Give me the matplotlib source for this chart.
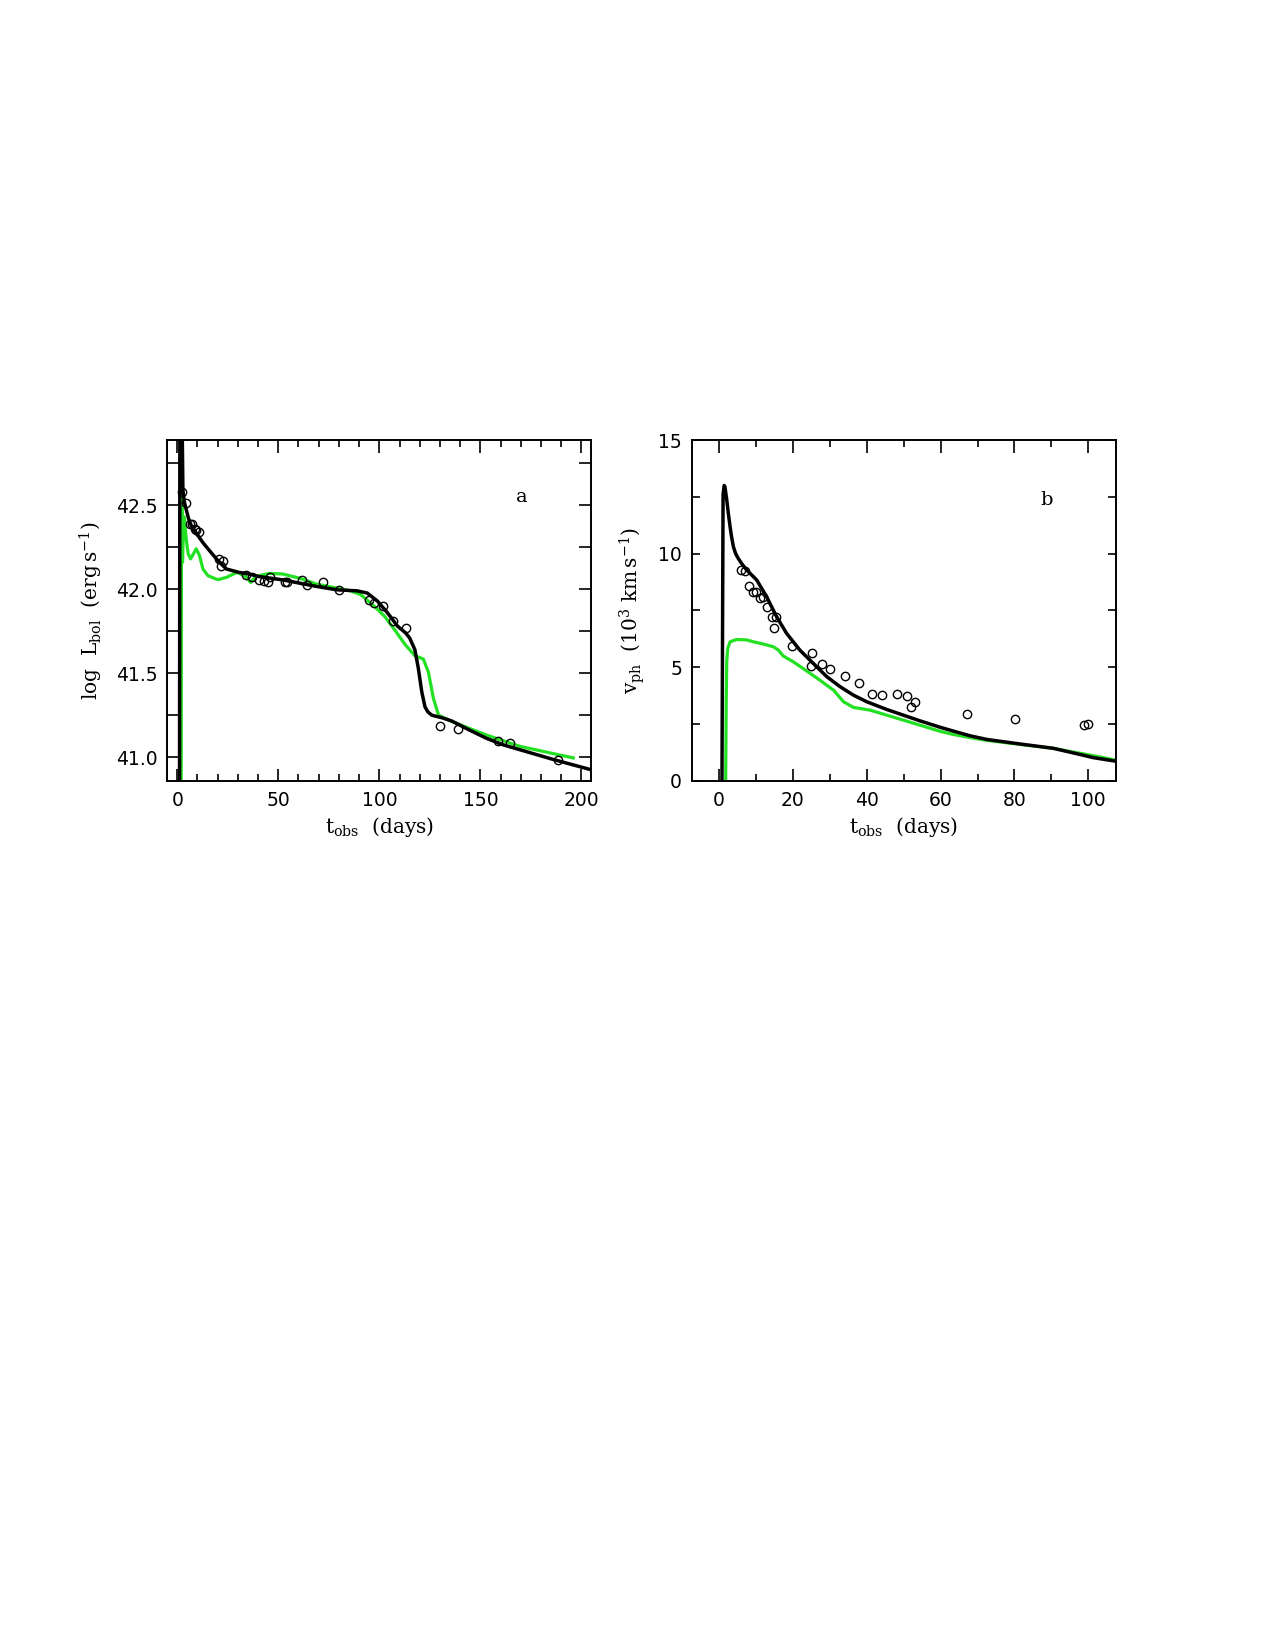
import matplotlib
matplotlib.use("Agg")
import matplotlib.pyplot as plt
from matplotlib.ticker import MultipleLocator, FormatStrFormatter

plt.rcParams['font.family'] = ['DejaVu Serif']
plt.rcParams['mathtext.fontset'] = 'dejavuserif'

# panel a: bolometric light curve
ta_black = [1.1, 1.3, 2.2, 2.8, 3.5, 4.5, 5.6, 6.9, 8.5, 10.2, 12.5, 15.2, 20.1, 24.3,
            30.5, 35.5, 40.5, 52.3, 69, 79, 89, 94, 99, 104, 109, 113, 115, 117.6,
            119.3, 121, 122.6, 124, 126, 131, 136, 144.4, 152.8, 161, 169.5, 186.3, 205]
La_black = [40.5, 43.2, 43.2, 42.59, 42.52, 42.47, 42.42, 42.38, 42.35, 42.32, 42.28,
            42.24, 42.17, 42.12, 42.10, 42.09, 42.075, 42.055, 42.016, 41.996, 41.99,
            41.977, 41.93, 41.86, 41.78, 41.74, 41.71, 41.64, 41.53, 41.39, 41.30,
            41.27, 41.25, 41.235, 41.215, 41.163, 41.114, 41.075, 41.045, 40.986, 40.925]

ta_green = [1.9, 2.1, 2.3, 2.6, 3.0, 3.5, 4.5, 5.4, 6.6, 8.0, 9.4, 11.0, 12.7, 15.2,
            20.1, 24.3, 29.6, 33.8, 36.3, 38.9, 45.6, 52.3, 60.6, 69, 79, 85.8, 90.8,
            97.5, 102.5, 107.5, 112.6, 117.6, 121.8, 124.3, 126.8, 129.3, 136, 152.8,
            169.5, 196]
La_green = [40.5, 42.5, 42.78, 42.16, 42.35, 42.43, 42.29, 42.21, 42.18, 42.21, 42.24,
            42.2, 42.12, 42.08, 42.056, 42.07, 42.10, 42.075, 42.04, 42.075, 42.094,
            42.09, 42.065, 42.03, 42.006, 41.99, 41.967, 41.898, 41.84, 41.76, 41.673,
            41.604, 41.584, 41.506, 41.349, 41.251, 41.212, 41.133, 41.065, 40.996]

ta_obs = [2.3, 4.5, 6.2, 7.3, 8.6, 9.5, 10.6, 20.9, 21.8, 22.4, 33.8, 37.2, 40.5, 43.0,
          44.7, 45.9, 53.1, 54.3, 61.5, 64.0, 71.9, 79.9, 95.0, 97.5, 101.7, 106.7,
          113.4, 130.2, 139.0, 158.6, 164.8, 188.3]
La_obs = [42.576, 42.51, 42.39, 42.39, 42.36, 42.35, 42.34, 42.18, 42.14, 42.17,
          42.084, 42.075, 42.055, 42.05, 42.045, 42.075, 42.045, 42.045, 42.055, 42.025,
          42.04, 41.996, 41.937, 41.918, 41.898, 41.81, 41.767, 41.188, 41.169, 41.098,
          41.084, 40.986]

# panel b: photospheric velocity
tb_black = [0.8, 1.1, 1.4, 1.6, 2.1, 2.5, 3.0, 3.4, 3.9, 4.5, 5.2, 6.1, 7.5, 10.2, 12.9,
            15.6, 18.3, 21.9, 25.5, 29.2, 32.8, 36.4, 40.0, 45.4, 49.9, 54.4, 59.8,
            63.4, 68.0, 72.5, 81.5, 90.5, 97.7, 101.3, 107.5]
vb_black = [0.0, 12.6, 13.0, 12.95, 12.36, 11.8, 11.18, 10.74, 10.3, 10.0, 9.79, 9.57,
            9.28, 8.84, 8.1, 7.22, 6.49, 5.75, 5.17, 4.58, 4.14, 3.77, 3.48, 3.14, 2.89,
            2.64, 2.36, 2.19, 1.98, 1.82, 1.62, 1.43, 1.16, 1.02, 0.86]

tb_green = [1.8, 1.95, 2.1, 2.4, 3.0, 4.8, 7.5, 9.3, 12, 14.7, 16.1, 17.4, 20.1, 23.7,
            27.3, 31.0, 33.7, 36.4, 40.9, 45.4, 49.9, 54.4, 59.8, 63.4, 68.0, 72.5,
            81.5, 90.5, 99.5, 107.5]
vb_green = [0.0, 3.5, 5.3, 5.85, 6.12, 6.22, 6.2, 6.12, 6.02, 5.9, 5.75, 5.49, 5.24,
            4.84, 4.43, 3.99, 3.48, 3.23, 3.11, 2.89, 2.67, 2.45, 2.18, 2.04, 1.9,
            1.78, 1.6, 1.43, 1.16, 0.91]

tb_obs = [5.87, 7.04, 8.12, 9.12, 10.0, 11.1, 12.0, 13.1, 14.26, 15.4, 14.9, 19.86,
          25.1, 24.8, 28.0, 30.05, 34.1, 37.99, 41.3, 44.1, 48.1, 51.0, 53.1, 52.1,
          67.1, 80.05, 98.8, 100.0]
vb_obs = [9.28, 9.25, 8.59, 8.32, 8.32, 8.03, 8.10, 7.63, 7.22, 7.22, 6.74, 5.94, 5.61,
          5.05, 5.12, 4.90, 4.61, 4.31, 3.80, 3.77, 3.82, 3.73, 3.49, 3.23, 2.96, 2.72,
          2.44, 2.50]

green = '#22e022'
tickfont = {'family': 'DejaVu Sans', 'size': 13.5}

fig = plt.figure(figsize=(12.75, 16.5), dpi=100)
ax1 = fig.add_axes([0.1311, 0.5268, 0.3328, 0.2065])
ax2 = fig.add_axes([0.5425, 0.5268, 0.3328, 0.2065])

ax1.plot(ta_green, La_green, color=green, lw=2.3, zorder=2)
ax1.plot(ta_black, La_black, color='black', lw=2.5, zorder=3)
ax1.plot(ta_obs, La_obs, 'o', mfc='none', mec='black', ms=6, mew=1.0, zorder=4)
ax1.set_xlim(-5, 205)
ax1.set_ylim(40.86, 42.887)
ax1.xaxis.set_major_locator(MultipleLocator(50))
ax1.xaxis.set_minor_locator(MultipleLocator(10))
ax1.yaxis.set_major_locator(MultipleLocator(0.5))
ax1.yaxis.set_minor_locator(MultipleLocator(0.25))
ax1.yaxis.set_major_formatter(FormatStrFormatter('%.1f'))
ax1.set_xlabel(r'$\rm t_{obs}$  (days)', fontsize=14.5)
ax1.set_ylabel(r'$\rm log\ \ L_{bol}\ \ (erg\,s^{-1})$', fontsize=14.5, labelpad=8)
ax1.text(170.5, 42.547, 'a', fontsize=14, ha='center', va='center')

ax2.plot(tb_green, vb_green, color=green, lw=2.3, zorder=2)
ax2.plot(tb_black, vb_black, color='black', lw=2.5, zorder=3)
ax2.plot(tb_obs, vb_obs, 'o', mfc='none', mec='black', ms=6, mew=1.0, zorder=4)
ax2.set_xlim(-7.4, 107.5)
ax2.set_ylim(0, 15)
ax2.xaxis.set_major_locator(MultipleLocator(20))
ax2.xaxis.set_minor_locator(MultipleLocator(10))
ax2.yaxis.set_major_locator(MultipleLocator(5))
ax2.yaxis.set_minor_locator(MultipleLocator(2.5))
ax2.set_xlabel(r'$\rm t_{obs}$  (days)', fontsize=14.5)
ax2.set_ylabel(r'$\rm v_{ph}\ \ (10^3\ km\,s^{-1})$', fontsize=14.5, labelpad=8)
ax2.text(88.7, 12.36, 'b', fontsize=14, ha='center', va='center')

for ax in (ax1, ax2):
    for s in ax.spines.values():
        s.set_linewidth(1.4)
    ax.tick_params(which='both', direction='in', top=True, right=True,
                   width=1.2, pad=7)
    ax.tick_params(which='major', length=9)
    ax.tick_params(which='minor', length=5)
    for lab in ax.get_xticklabels() + ax.get_yticklabels():
        lab.set_fontfamily(tickfont['family'])
        lab.set_fontsize(tickfont['size'])
ax1.tick_params(axis='y', which='minor', length=9)
ax2.tick_params(axis='y', which='both', length=6)

fig.savefig('out.png', dpi=100)
